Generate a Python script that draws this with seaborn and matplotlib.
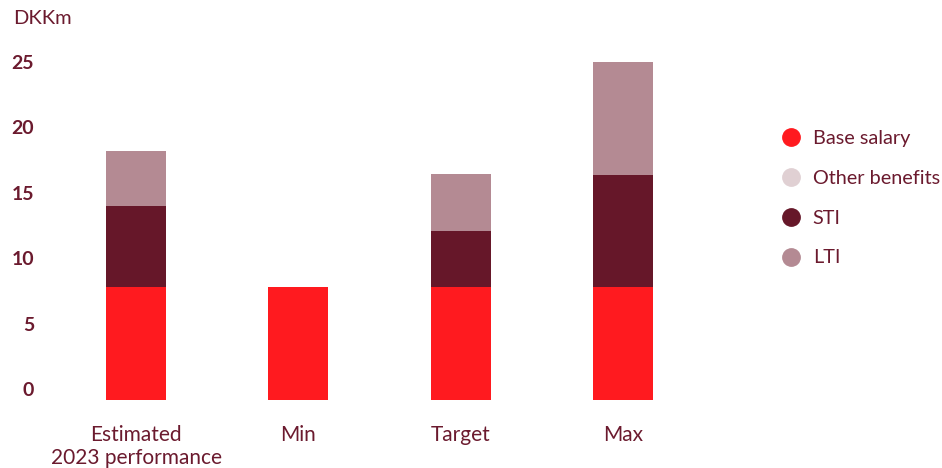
import matplotlib
matplotlib.use("Agg")
import matplotlib.pyplot as plt
from matplotlib.lines import Line2D
import seaborn as sns
import pandas as pd
import numpy as np

categories = ["Estimated\n2023 performance", "Min", "Target", "Max"]
base_salary = [7.8, 7.8, 7.8, 7.8]
other_benefits = [0.0, 0.0, 0.0, 0.0]
sti = [6.2, 0.0, 4.3, 8.6]
lti = [4.2, 0.0, 4.35, 8.6]
series_names = ["Base salary", "Other benefits", "STI", "LTI"]
colors = ["#ff1a1f", "#e0d0d3", "#661729", "#b48a93"]
text_color = "#6b1a2e"
yticks = [0, 5, 10, 15, 20, 25]

sns.set_theme(style="white")
plt.rcParams["font.family"] = ["Lato", "DejaVu Sans"]

df = pd.DataFrame({
    "category": categories,
    "Base salary": base_salary,
    "Other benefits": other_benefits,
    "STI": sti,
    "LTI": lti,
})
cum = df[series_names].cumsum(axis=1)

fig = plt.figure(figsize=(9.42, 4.68), dpi=100)
ymin = -0.84
ax_bottom = (468 - 400) / 468
ax_height = (25.6 - ymin) * 13.08 / 468
ax = fig.add_axes([55 / 942, ax_bottom, 649 / 942, ax_height])

for name, col in reversed(list(zip(series_names, colors))):
    sns.barplot(x=df["category"], y=cum[name], color=col, width=0.37,
                saturation=1, ax=ax, order=categories, linewidth=0,
                edgecolor="none")

ax.set_xlim(-0.5, 3.5)
ax.set_ylim(ymin, 25.6)
ax.set_yticks(yticks)
ax.set_yticklabels([str(t) for t in yticks], fontsize=14, fontweight="bold",
                   color=text_color)
ax.tick_params(axis="y", length=0, pad=15)
ax.tick_params(axis="x", length=0, pad=18, labelsize=15, labelcolor=text_color)
ax.set_xlabel("")
ax.set_ylabel("")
for s in ax.spines.values():
    s.set_visible(False)

# Bars start at the axis floor as in the reference
for p in ax.patches:
    if abs(p.get_y()) < 1e-9:
        h = p.get_height()
        p.set_y(ymin)
        p.set_height(h - ymin)

fig.text(13 / 942, 1 - 18 / 468, "DKKm", fontsize=14.5, color=text_color,
         va="center", ha="left")

handles = [Line2D([0], [0], marker="o", linestyle="", markersize=12.5,
                  markerfacecolor=c, markeredgecolor=c) for c in colors]
leg = fig.legend(handles, series_names, loc="upper left",
                 bbox_to_anchor=(771 / 942, 1 - 122 / 468), frameon=False,
                 fontsize=14.3, labelspacing=1.15, handletextpad=0.5,
                 handlelength=1.2, borderaxespad=0)
for t in leg.get_texts():
    t.set_color(text_color)

fig.savefig("out.png", dpi=100)
